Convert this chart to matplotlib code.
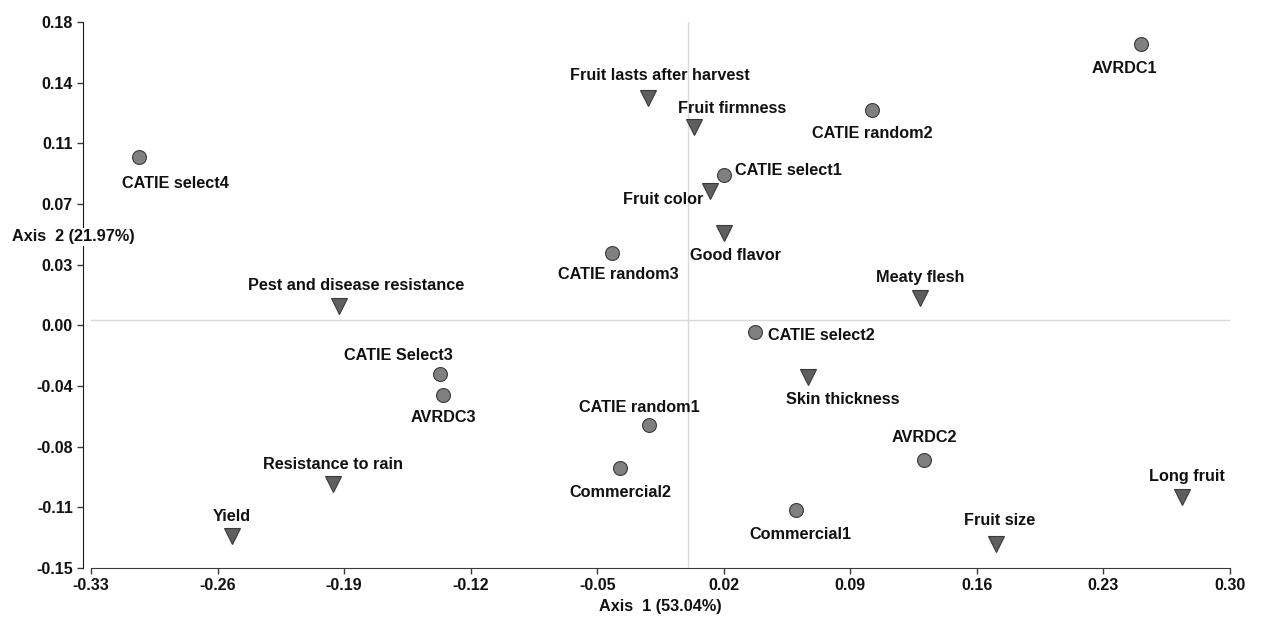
import matplotlib
matplotlib.use("Agg")
import matplotlib.pyplot as plt
import numpy as np

plt.rcParams['font.family'] = ['Liberation Sans', 'DejaVu Sans']
plt.rcParams['font.weight'] = 'bold'

# Cultivars (circles)
cult_names = ["AVRDC1", "CATIE random2", "CATIE select4", "CATIE select1", "CATIE random3",
              "CATIE select2", "CATIE Select3", "AVRDC3", "CATIE random1", "Commercial2",
              "AVRDC2", "Commercial1"]
cult_x = [0.2505, 0.1022, -0.3034, 0.0203, -0.0417, 0.0375, -0.1369, -0.1352, -0.0212, -0.0372, 0.1310, 0.0601]
cult_y = [0.1667, 0.1268, 0.0984, 0.0875, 0.0404, -0.0074, -0.0328, -0.0454, -0.0636, -0.0896, -0.0847, -0.1150]

# Attributes (triangles)
attr_names = ["Fruit lasts after harvest", "Fruit firmness", "Fruit color", "Good flavor",
              "Meaty flesh", "Pest and disease resistance", "Skin thickness",
              "Resistance to rain", "Yield", "Long fruit", "Fruit size"]
attr_x = [-0.0218, 0.0037, 0.0126, 0.0203, 0.1288, -0.1928, 0.0668, -0.1961, -0.2520, 0.2732, 0.1703]
attr_y = [0.1341, 0.1165, 0.0779, 0.0525, 0.0132, 0.0083, -0.0346, -0.0992, -0.1307, -0.1071, -0.1355]

x_ticks = [-0.33, -0.26, -0.19, -0.12, -0.05, 0.02, 0.09, 0.16, 0.23, 0.30]
y_tick_labels = ["-0.15", "-0.11", "-0.08", "-0.04", "0.00", "0.03", "0.07", "0.11", "0.14", "0.18"]

x_label = "Axis  1 (53.04%)"
y_label = "Axis  2 (21.97%)"

# label offsets in pixels (dx, dy with dy positive = up), alignment
cult_off = [(-16, -24, 'center'), (0, -23, 'center'), (36, -26, 'center'), (11, 5, 'left'),
            (6, -22, 'center'), (13, -3, 'left'), (-42, 19, 'center'), (0, -23, 'center'),
            (-10, 18, 'center'), (0, -24, 'center'), (0, 22, 'center'), (4, -24, 'center')]
attr_off = [(12, 22, 'center'), (38, 19, 'center'), (-7, -9, 'right'), (11, -23, 'center'),
            (0, 20, 'center'), (17, 21, 'center'), (34, -22, 'center'), (0, 19, 'center'),
            (0, 20, 'center'), (5, 21, 'center'), (4, 24, 'center')]

W, H = 1262, 621
fig = plt.figure(figsize=(W / 100, H / 100), dpi=100)
ax = fig.add_axes([91 / W, 1 - 568 / H, (1230 - 91) / W, (568 - 22) / H])

ax.set_xlim(-0.33, 0.30)
ax.set_ylim(-0.15, 0.18)

ax.axvline(0, color='#d9d9d9', lw=1, zorder=0)
ax.axhline(0, color='#d9d9d9', lw=1, zorder=0)

ax.plot(cult_x, cult_y, 'o', ms=10, mfc='#808080', mec='#3a3a3a', mew=0.8, ls='none', zorder=3)
ax.plot(attr_x, attr_y, 'v', ms=11, mfc='#5f5f5f', mec='#3a3a3a', mew=0.8, ls='none', zorder=3)

fs = 11.7
for n, x, y, (dx, dy, ha) in zip(cult_names, cult_x, cult_y, cult_off):
    ax.annotate(n, (x, y), xytext=(dx * 0.72, dy * 0.72), textcoords='offset points',
                ha=ha, va='center', fontsize=fs, fontweight='bold', color='#111111')
for n, x, y, (dx, dy, ha) in zip(attr_names, attr_x, attr_y, attr_off):
    ax.annotate(n, (x, y), xytext=(dx * 0.72, dy * 0.72), textcoords='offset points',
                ha=ha, va='center', fontsize=fs, fontweight='bold', color='#111111')

ax.set_xticks(x_ticks)
ax.set_xticklabels([f"{t:.2f}" for t in x_ticks])
yt = np.linspace(-0.15, 0.18, len(y_tick_labels))
ax.set_yticks(yt)
ax.set_yticklabels(y_tick_labels)

for s in ['top', 'right']:
    ax.spines[s].set_visible(False)
ax.spines['left'].set_position(('outward', 6))
ax.spines['left'].set_color('#1a1a1a')
ax.spines['bottom'].set_color('#3a3a3a')
ax.tick_params(axis='both', direction='out', length=4, width=1, colors='#3a3a3a',
               labelsize=11.5, labelcolor='#111111', pad=3)
for lab in ax.get_xticklabels() + ax.get_yticklabels():
    lab.set_fontweight('bold')

fig.text(660 / W, 1 - 607 / H, x_label, ha='center', va='center', fontsize=fs,
         fontweight='bold', color='#111111')
fig.text(12 / W, 1 - 237 / H, y_label, ha='left', va='center', fontsize=fs,
         fontweight='bold', color='#111111',
         bbox=dict(boxstyle='square,pad=0.1', fc='white', ec='none'), zorder=5)

fig.savefig("out.png", dpi=100)
